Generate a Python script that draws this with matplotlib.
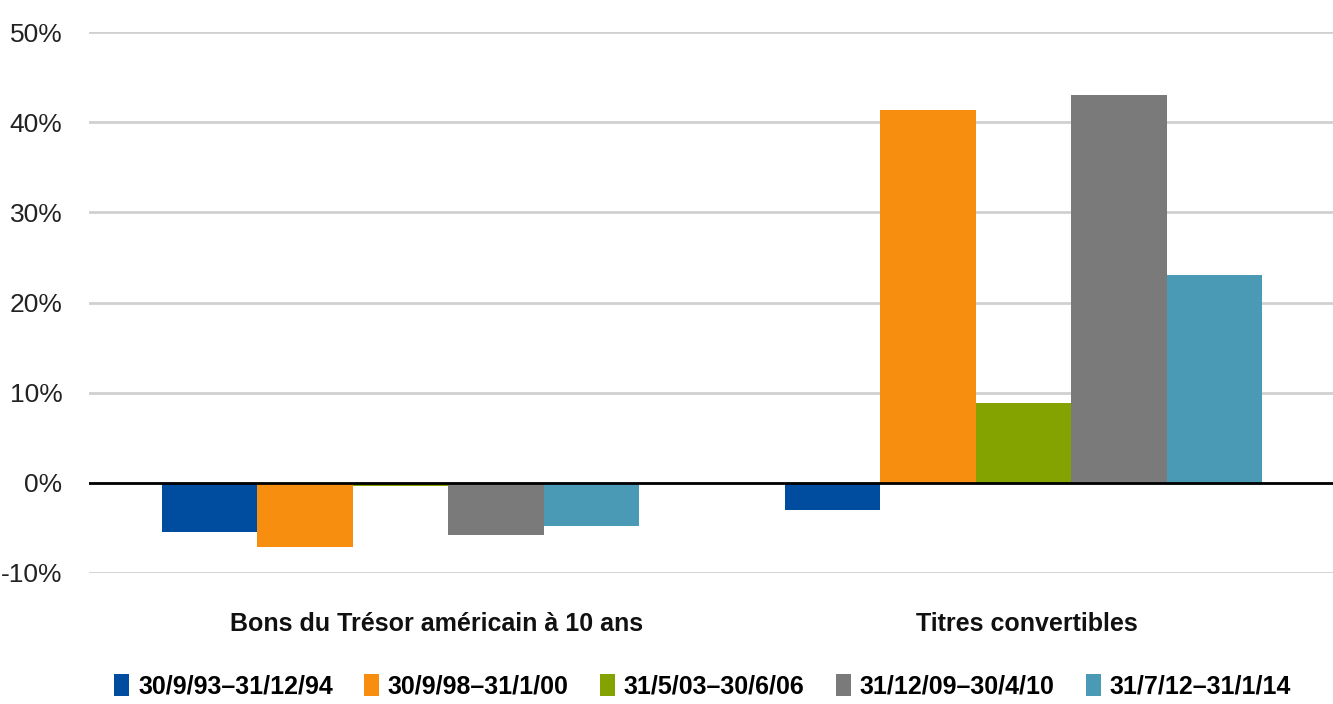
import matplotlib.pyplot as plt
import numpy as np

# Data (in %)
categories = ['Bons du Trésor américain à 10 ans', 'Titres convertibles']
periods = ['30/9/93\u201331/12/94', '30/9/98\u201331/1/00', '31/5/03\u201330/6/06',
           '31/12/09\u201330/4/10', '31/7/12\u201331/1/14']
values = {
    periods[0]: [-5.5, -3.0],
    periods[1]: [-7.1, 41.4],
    periods[2]: [-0.3, 8.8],
    periods[3]: [-5.8, 43.0],
    periods[4]: [-4.8, 23.0],
}
colors = ['#004C9E', '#F78E10', '#84A300', '#7A7A7A', '#4B9AB5']
yticks = [-10, 0, 10, 20, 30, 40, 50]

plt.rcParams['font.family'] = ['Liberation Sans', 'DejaVu Sans']

fig = plt.figure(figsize=(13.33, 7.04), dpi=100)
ax = fig.add_axes([89 / 1333, 1 - 573 / 704, 1 - 89 / 1333, (573 - 32) / 704])

x = np.arange(len(categories))
width = 0.767 / len(periods)
for i, (p, c) in enumerate(zip(periods, colors)):
    off = (i - (len(periods) - 1) / 2) * width
    ax.bar(x + off, values[p], width=width, color=c, label=p, zorder=3)

ax.set_xlim(-0.5, 1.497)
ax.set_ylim(-10, 50)
ax.set_yticks(yticks)
ax.set_yticklabels([f'{t}%' for t in yticks], fontsize=19, color='#222222')
ax.tick_params(axis='y', length=0, pad=19)
ax.set_xticks([])
# category labels (the first one sits a little right of its group centre in the original)
shifts = [0.058, 0.006]
for xi, lab, dx in zip(x, categories, shifts):
    ax.text(xi + dx, -0.094, lab, transform=ax.get_xaxis_transform(),
            ha='center', va='center', fontsize=18, fontweight='bold', color='#111111')
ax.grid(axis='y', color='#D0D0D0', linewidth=2, zorder=0)
ax.axhline(0, color='black', linewidth=2, zorder=4)
for s in ax.spines.values():
    s.set_visible(False)

leg = fig.legend(loc='center', bbox_to_anchor=(0.527, 1 - 686 / 704), ncol=5,
                 frameon=False, handlelength=0.6, handleheight=1.0,
                 handletextpad=0.35, columnspacing=1.25,
                 prop={'weight': 'bold', 'size': 18})

fig.savefig('out.png', dpi=100)
